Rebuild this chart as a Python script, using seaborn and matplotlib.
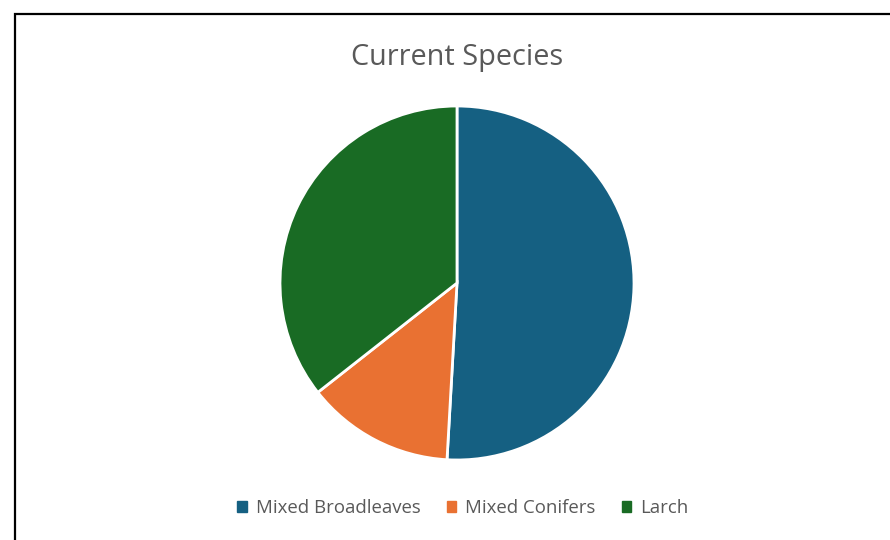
import matplotlib
matplotlib.use("Agg")
import matplotlib.pyplot as plt
import matplotlib.patches as mpatches
import seaborn as sns

# data
species = ["Mixed Broadleaves", "Mixed Conifers", "Larch"]
shares = [50.9, 13.5, 35.6]
colours = ["#156082", "#E97132", "#196B24"]

sns.set_theme(style="white")
plt.rcParams['font.family'] = ['Open Sans', 'DejaVu Sans']
palette = sns.color_palette(colours)

W, H = 890, 540
fig = plt.figure(figsize=(W / 100, H / 100), dpi=100)
fig.patch.set_facecolor("white")

# pie axes, placed in pixels
cx, cy, r = 457, 283, 177
ax = fig.add_axes([(cx - r) / W, (H - cy - r) / H, 2 * r / W, 2 * r / H])
wedges, _ = ax.pie(shares, colors=palette, startangle=90, counterclock=False,
                   radius=1, wedgeprops=dict(edgecolor="white", linewidth=2))
ax.set_xlim(-1, 1)
ax.set_ylim(-1, 1)
ax.set_aspect("equal")
ax.axis("off")

fig.text(457 / W, 1 - 57 / H, "Current Species", ha="center", va="center",
         fontsize=20.8, color="#595959")

handles = [mpatches.Patch(color=c, label=s) for c, s in zip(palette, species)]
fig.legend(handles=handles, loc="center", bbox_to_anchor=(463 / W, 1 - 508 / H),
           ncol=3, frameon=False, fontsize=13.4, labelcolor="#595959",
           handlelength=0.5, handleheight=0.5, handletextpad=0.5, columnspacing=1.4)

# frame of the chart area (cropped on right and bottom)
fig.patches.append(mpatches.Rectangle((15 / W, -0.1), 1.2, 1 - 14 / H + 0.1,
                                      transform=fig.transFigure, fill=False,
                                      edgecolor="black", linewidth=1.6))

fig.savefig("out.png", dpi=100)
